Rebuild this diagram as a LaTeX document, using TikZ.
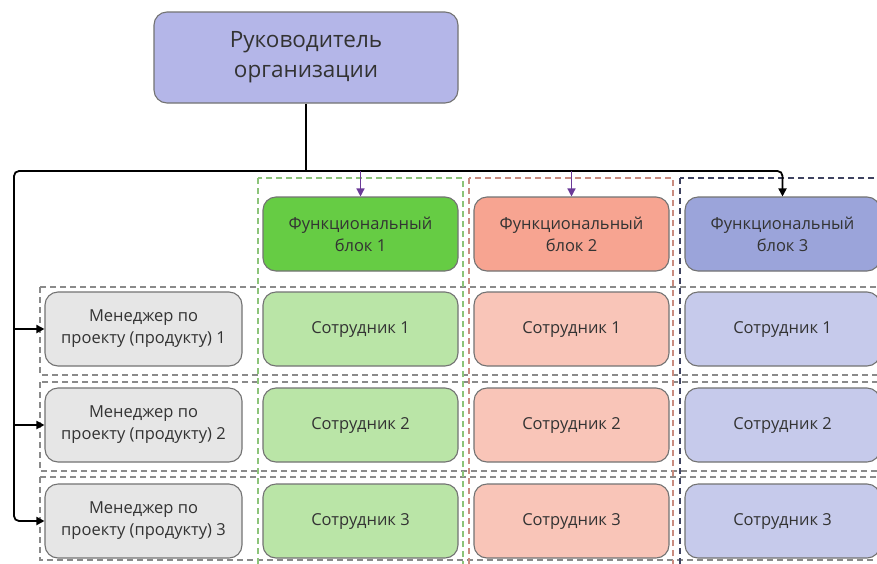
\documentclass[tikz,border=0pt]{standalone}
\usepackage{fontspec}
\setmainfont{Open Sans}
\usetikzlibrary{arrows.meta,calc}
\definecolor{topc}{HTML}{B4B6E8}
\definecolor{fbA}{HTML}{66CC44}
\definecolor{fbB}{HTML}{F7A491}
\definecolor{fbC}{HTML}{9BA4DA}
\definecolor{emA}{HTML}{BAE5A7}
\definecolor{emB}{HTML}{F9C5B8}
\definecolor{emC}{HTML}{C6CAEB}
\definecolor{mgr}{HTML}{E6E6E6}
\definecolor{dashA}{HTML}{8CC47A}
\definecolor{dashB}{HTML}{C98C80}
\definecolor{dashC}{HTML}{3E4260}
\definecolor{dashR}{HTML}{8A8A8A}
\definecolor{arrP}{HTML}{6B3A98}
\definecolor{txt}{HTML}{333333}
\tikzset{
  box/.style={draw=black!55, line width=1.1pt, rounded corners=13pt, minimum width=195pt, minimum height=74pt, align=center, text=txt, font=\fontsize{16.5}{22}\selectfont},
  grp/.style={line width=1.2pt, dash pattern=on 6pt off 4pt},
  conn/.style={line width=1.8pt, black},
  tip/.style={-{Triangle[length=8pt,width=8pt]}}
}
\begin{document}
\begin{tikzpicture}[x=1pt,y=-1pt]
\useasboundingbox (0,0) rectangle (877,563);
\fill[white] (0,0) rectangle (877,563);
% dashed groups
\draw[grp, draw=dashR] (40,287) rectangle (895,375);
\draw[grp, draw=dashR] (40,382) rectangle (895,471);
\draw[grp, draw=dashR] (40,477) rectangle (895,560);
\draw[grp, draw=dashA] (258,178) rectangle (463,580);
\draw[grp, draw=dashB] (469,178) rectangle (673,580);
\draw[grp, draw=dashC] (680,178) rectangle (895,580);
% top
\node[box, fill=topc, minimum width=304pt, minimum height=91pt, font=\fontsize{22.5}{30}\selectfont] (top) at (306,57.5) {Руководитель\\организации};
% functional blocks
\node[box, fill=fbA] (fb1) at (360.5,234) {Функциональный\\блок 1};
\node[box, fill=fbB] (fb2) at (571.5,234) {Функциональный\\блок 2};
\node[box, fill=fbC] (fb3) at (782.5,234) {Функциональный\\блок 3};
% managers and employees
\foreach \i/\y in {1/329,2/425,3/521}{
  \node[box, fill=mgr, minimum width=197pt] (m\i) at (143.5,\y) {Менеджер по\\проекту (продукту) \i};
  \node[box, fill=emA] (a\i) at (360.5,\y) {Сотрудник \i};
  \node[box, fill=emB] (b\i) at (571.5,\y) {Сотрудник \i};
  \node[box, fill=emC] (c\i) at (782.5,\y) {Сотрудник \i};
}
% connectors
\coordinate (j) at (306,171);
\coordinate (L) at (14,171);
\draw[conn] (top.south) -- (j);
\draw[conn, tip, rounded corners=5pt] (j) -- (L) |- (m3.west);
\draw[conn, tip] (L |- m1.west) -- (m1.west);
\draw[conn, tip] (L |- m2.west) -- (m2.west);
\draw[conn, tip, rounded corners=5pt] (j) -| (fb3.north);
\draw[line width=1.4pt, arrP, tip] (fb1.north |- j) -- (fb1.north);
\draw[line width=1.4pt, arrP, tip] (fb2.north |- j) -- (fb2.north);
\end{tikzpicture}
\end{document}
